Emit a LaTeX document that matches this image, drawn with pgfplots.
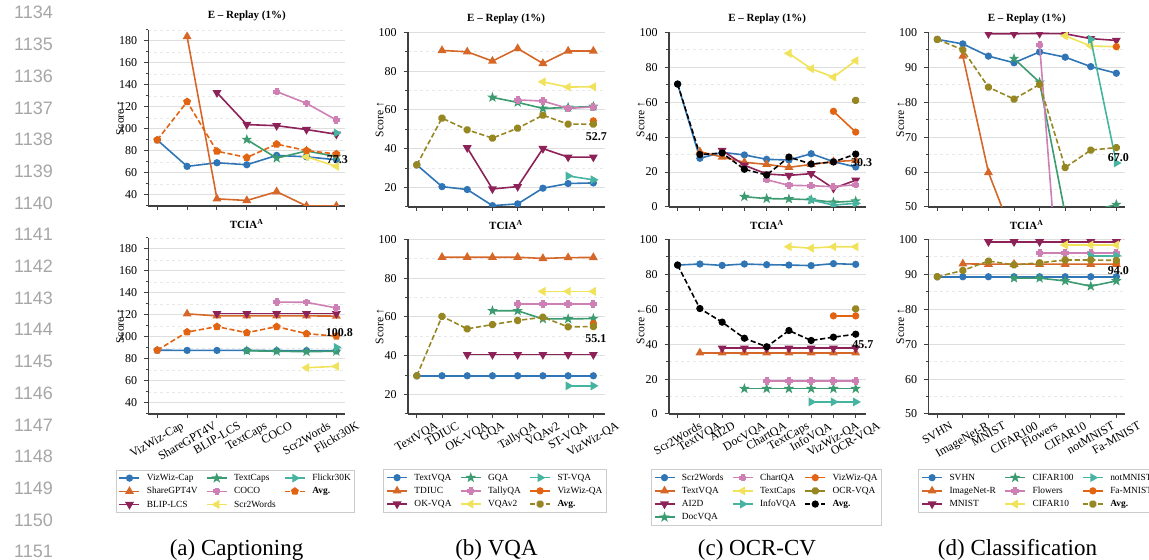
\documentclass[border=0pt]{standalone}
\usepackage{fontspec}
\setmainfont{Liberation Serif}
\newfontfamily\linefont{Liberation Sans}
\usepackage{graphicx}
\usepackage{pgfplots}
\pgfplotsset{compat=1.18}
\newcommand\rl[1]{\rotatebox{30}{#1}}

\definecolor{c1}{RGB}{48,118,182}
\definecolor{c2}{RGB}{213,104,40}
\definecolor{c3}{RGB}{140,34,88}
\definecolor{c4}{RGB}{60,155,112}
\definecolor{c5}{RGB}{206,128,180}
\definecolor{c6}{RGB}{240,226,90}
\definecolor{c7}{RGB}{70,180,160}
\definecolor{c8}{RGB}{226,100,18}
\definecolor{c9}{RGB}{150,135,35}

\pgfdeclareplotmark{fstar}{%
 \pgfpathmoveto{\pgfpointpolar{90}{1.25*\pgfplotmarksize}}%
 \pgfpathlineto{\pgfpointpolar{126}{0.5*\pgfplotmarksize}}%
 \pgfpathlineto{\pgfpointpolar{162}{1.25*\pgfplotmarksize}}%
 \pgfpathlineto{\pgfpointpolar{198}{0.5*\pgfplotmarksize}}%
 \pgfpathlineto{\pgfpointpolar{234}{1.25*\pgfplotmarksize}}%
 \pgfpathlineto{\pgfpointpolar{270}{0.5*\pgfplotmarksize}}%
 \pgfpathlineto{\pgfpointpolar{306}{1.25*\pgfplotmarksize}}%
 \pgfpathlineto{\pgfpointpolar{342}{0.5*\pgfplotmarksize}}%
 \pgfpathlineto{\pgfpointpolar{18}{1.25*\pgfplotmarksize}}%
 \pgfpathlineto{\pgfpointpolar{54}{0.5*\pgfplotmarksize}}%
 \pgfpathclose\pgfusepathqfillstroke}
\pgfdeclareplotmark{fplus}{%
 \pgfpathmoveto{\pgfpoint{0.4*\pgfplotmarksize}{1*\pgfplotmarksize}}%
 \pgfpathlineto{\pgfpoint{-0.4*\pgfplotmarksize}{1*\pgfplotmarksize}}%
 \pgfpathlineto{\pgfpoint{-0.4*\pgfplotmarksize}{0.4*\pgfplotmarksize}}%
 \pgfpathlineto{\pgfpoint{-1*\pgfplotmarksize}{0.4*\pgfplotmarksize}}%
 \pgfpathlineto{\pgfpoint{-1*\pgfplotmarksize}{-0.4*\pgfplotmarksize}}%
 \pgfpathlineto{\pgfpoint{-0.4*\pgfplotmarksize}{-0.4*\pgfplotmarksize}}%
 \pgfpathlineto{\pgfpoint{-0.4*\pgfplotmarksize}{-1*\pgfplotmarksize}}%
 \pgfpathlineto{\pgfpoint{0.4*\pgfplotmarksize}{-1*\pgfplotmarksize}}%
 \pgfpathlineto{\pgfpoint{0.4*\pgfplotmarksize}{-0.4*\pgfplotmarksize}}%
 \pgfpathlineto{\pgfpoint{1*\pgfplotmarksize}{-0.4*\pgfplotmarksize}}%
 \pgfpathlineto{\pgfpoint{1*\pgfplotmarksize}{0.4*\pgfplotmarksize}}%
 \pgfpathlineto{\pgfpoint{0.4*\pgfplotmarksize}{0.4*\pgfplotmarksize}}%
 \pgfpathclose\pgfusepathqfillstroke}
\pgfdeclareplotmark{foct}{%
 \pgfpathmoveto{\pgfpointpolar{22.5}{1.05*\pgfplotmarksize}}%
 \pgfpathlineto{\pgfpointpolar{67.5}{1.05*\pgfplotmarksize}}%
 \pgfpathlineto{\pgfpointpolar{112.5}{1.05*\pgfplotmarksize}}%
 \pgfpathlineto{\pgfpointpolar{157.5}{1.05*\pgfplotmarksize}}%
 \pgfpathlineto{\pgfpointpolar{202.5}{1.05*\pgfplotmarksize}}%
 \pgfpathlineto{\pgfpointpolar{247.5}{1.05*\pgfplotmarksize}}%
 \pgfpathlineto{\pgfpointpolar{292.5}{1.05*\pgfplotmarksize}}%
 \pgfpathlineto{\pgfpointpolar{337.5}{1.05*\pgfplotmarksize}}%
 \pgfpathclose\pgfusepathqfillstroke}

\pgfplotsset{
 s1/.style={color=c1, mark=*, mark size=1.4pt, line width=0.8pt},
 s2/.style={color=c2, mark=triangle*, mark size=1.8pt, line width=0.8pt},
 s3/.style={color=c3, mark=triangle*, mark size=1.8pt, mark options={rotate=180}, line width=0.8pt},
 s4/.style={color=c4, mark=fstar, mark size=1.25pt, line width=0.8pt},
 s5/.style={color=c5, mark=fplus, mark size=1.45pt, line width=0.8pt},
 s6/.style={color=c6, mark=triangle*, mark size=1.8pt, mark options={rotate=90}, line width=0.8pt},
 s7/.style={color=c7, mark=triangle*, mark size=1.8pt, mark options={rotate=-90}, line width=0.8pt},
 s8/.style={color=c8, mark=*, mark size=1.4pt, line width=0.8pt},
 s9/.style={color=c9, mark=foct, mark size=1.4pt, line width=0.8pt},
 avgA/.style={color=c8, mark=pentagon*, mark size=1.6pt, line width=0.8pt, dash pattern=on 2.6pt off 1.3pt, mark options={solid}},
 avgB/.style={color=c9, mark=foct, mark size=1.4pt, line width=0.8pt, dash pattern=on 2.6pt off 1.3pt, mark options={solid}},
 avgC/.style={color=black, mark=*, mark size=1.4pt, line width=0.8pt, dash pattern=on 2.6pt off 1.3pt, mark options={solid}},
 base/.style={
  width=98.5pt, height=87.3pt, scale only axis, anchor=south west,
  axis x line*=bottom, axis y line*=left,
  axis line style={-, draw=black!75, line width=0.8pt},
  tick align=outside, major tick length=2pt, minor tick length=1.2pt,
  tick style={draw=black!75, line width=0.5pt},
  ymajorgrids, yminorgrids,
  major grid style={draw=black!13, line width=0.5pt, solid},
  minor grid style={draw=black!9, line width=0.4pt, dash pattern=on 1.5pt off 1.5pt},
  ticklabel style={font=\fontsize{6}{7}\selectfont},
  /pgf/number format/assume math mode=true,
  ylabel={Score ↑},
  every axis y label/.style={at={(axis description cs:-0.142,0.5)}, rotate=90, anchor=center, font=\fontsize{5.8}{6.5}\selectfont},
  every axis title/.style={at={(axis description cs:0.5,1)}, anchor=center, yshift=7pt, font=\bfseries\fontsize{5.5}{6.5}\selectfont},
  clip mode=individual, clip marker paths=true,
 },
 toprow/.style={base, xticklabels={,,,,,,,,,,}, title={E – Replay (1\%)}},
 botrow/.style={base, title={TCIA\textsuperscript{A}},
  xticklabel style={anchor=north, inner sep=1pt, yshift=-0.5pt},
  legend columns=3, legend cell align=left,
  legend image code/.code={\draw[mark repeat=2,mark phase=2] plot coordinates {(0pt,0pt)(5pt,0pt)(10pt,0pt)};},
  legend style={anchor=north west, draw=black!20, line width=0.4pt, fill=white,
   inner sep=1.3pt, font=\fontsize{4.7}{5.4}\selectfont,
   column sep=2.7pt, row sep=1.1pt,
   /tikz/every even column/.append style={column sep=3.6pt},
   nodes={inner sep=0.6pt, text height=3.4pt, text depth=0.9pt}},
 },
}

\begin{document}
\begin{tikzpicture}
\path[use as bounding box] (0,0) rectangle (574.5pt,280pt);
\clip (0,0) rectangle (574.5pt,280pt);

\foreach \i in {0,...,17} {
 \pgfmathtruncatemacro\n{1134+\i}
 \node[anchor=base east, font=\linefont\fontsize{9}{10}\selectfont, text=black!35, inner sep=0pt] at (26.65pt, {270.5pt-\i*15.85pt}) {\n};
}
\node[anchor=base, font=\fontsize{11.5}{13}\selectfont, inner sep=0pt] at (118.25pt,2pt) {(a) Captioning};
\node[anchor=base, font=\fontsize{11.5}{13}\selectfont, inner sep=0pt] at (248.25pt,2pt) {(b) VQA};
\node[anchor=base, font=\fontsize{11.5}{13}\selectfont, inner sep=0pt] at (378.5pt,2pt) {(c) OCR-CV};
\node[anchor=base, font=\fontsize{11.5}{13}\selectfont, inner sep=0pt] at (508.75pt,2pt) {(d) Classification};

% ---------------- (a) top
\begin{axis}[toprow, at={(74.15pt,177pt)}, height=88pt, xmin=-0.3, xmax=6.3, ymin=30, ymax=190,
 ytick={40,60,...,180}, minor ytick={30,50,...,190}, xtick={0,...,6}]
\addplot[s1] coordinates {(0,90)(1,66)(2,69.3)(3,67.5)(4,76)(5,74.7)(6,72)};
\addplot[s2] coordinates {(1,184)(2,36.5)(3,35)(4,43)(5,30)(6,30)};
\addplot[s3] coordinates {(2,133)(3,104)(4,103)(5,99.5)(6,95.2)};
\addplot[s4] coordinates {(3,90.4)(4,73.5)(5,80)(6,75)};
\addplot[s5] coordinates {(4,134)(5,123.3)(6,108.2)};
\addplot[s6] coordinates {(5,74.7)(6,66)};
\addplot[s7] coordinates {(6,96.4)};
\addplot[avgA] coordinates {(0,90)(1,124.8)(2,79.8)(3,74.1)(4,86.2)(5,80.4)(6,77.3)};
\node[font=\bfseries\fontsize{6}{7}\selectfont, xshift=0.5pt, yshift=-3pt] at (axis cs:6,77.3) {77.3};
\end{axis}

% ---------------- (a) bottom
\begin{axis}[botrow, at={(74.15pt,73pt)}, height=88pt, xmin=-0.3, xmax=6.3, ymin=30, ymax=190,
 ytick={40,60,...,180}, minor ytick={30,50,...,190}, xtick={0,...,6},
 xticklabels={\rl{VizWiz-Cap},\rl{ShareGPT4V},\rl{BLIP-LCS},\rl{TextCaps},\rl{COCO},\rl{Scr2Words},\rl{Flickr30K}},
 legend style={at={(axis description cs:-0.1655,-0.316)}}]
\addplot[s1, forget plot] coordinates {(0,88)(1,87.8)(2,87.8)(3,87.8)(4,87.6)(5,87.6)(6,87.4)};
\addplot[s2, forget plot] coordinates {(1,121)(2,119.2)(3,119.2)(4,119.2)(5,119.2)(6,119)};
\addplot[s3, forget plot] coordinates {(2,121.2)(3,121.2)(4,121.2)(5,121.2)(6,121.2)};
\addplot[s4, forget plot] coordinates {(3,87.5)(4,87)(5,86.7)(6,87)};
\addplot[s5, forget plot] coordinates {(4,131.8)(5,131.5)(6,126.4)};
\addplot[s6, forget plot] coordinates {(5,72.1)(6,73.3)};
\addplot[s7, forget plot] coordinates {(6,90.6)};
\addplot[avgA, forget plot] coordinates {(0,88)(1,104.5)(2,109.4)(3,103.9)(4,109.4)(5,103)(6,100.8)};
\node[font=\bfseries\fontsize{6}{7}\selectfont, xshift=1.5pt, yshift=1.8pt] at (axis cs:6,100.8) {100.8};
\addlegendimage{s1}\addlegendentry{VizWiz-Cap}
\addlegendimage{s4}\addlegendentry{TextCaps}
\addlegendimage{s7}\addlegendentry{Flickr30K}
\addlegendimage{s2}\addlegendentry{ShareGPT4V}
\addlegendimage{s5}\addlegendentry{COCO}
\addlegendimage{avgA}\addlegendentry{\textbf{Avg.}}
\addlegendimage{s3}\addlegendentry{BLIP-LCS}
\addlegendimage{s6}\addlegendentry{Scr2Words}
\end{axis}

% ---------------- (b) top
\begin{axis}[toprow, at={(203.85pt,176.5pt)}, xmin=-0.36, xmax=7.45, ymin=10, ymax=100,
 ytick={20,40,...,100}, minor ytick={10,30,...,90}, xtick={0,...,7}]
\addplot[s1] coordinates {(0,31.7)(1,20.5)(2,19)(3,10.7)(4,11.6)(5,19.7)(6,22.1)(7,22.4)};
\addplot[s2] coordinates {(1,90.7)(2,90)(3,85.2)(4,91.7)(5,84)(6,90.4)(7,90.4)};
\addplot[s3] coordinates {(2,40.5)(3,19.3)(4,20.5)(5,40.1)(6,35.7)(7,35.7)};
\addplot[s4] coordinates {(3,66.5)(4,63.9)(5,60.8)(6,61.3)(7,61.8)};
\addplot[s5] coordinates {(4,65.2)(5,64.6)(6,60.8)(7,61.6)};
\addplot[s6] coordinates {(5,74.5)(6,71.8)(7,72)};
\addplot[s7] coordinates {(6,26)(7,24)};
\addplot[s8] coordinates {(7,54.4)};
\addplot[avgB] coordinates {(0,31.7)(1,55.8)(2,49.8)(3,45.5)(4,50.6)(5,57.3)(6,52.7)(7,52.7)};
\node[font=\bfseries\fontsize{6}{7}\selectfont, xshift=1.5pt, yshift=-6pt] at (axis cs:7,52.7) {52.7};
\end{axis}

% ---------------- (b) bottom
\begin{axis}[botrow, at={(203.85pt,73pt)}, xmin=-0.36, xmax=7.45, ymin=10, ymax=100,
 ytick={20,40,...,100}, minor ytick={10,30,...,90}, xtick={0,...,7},
 xticklabels={\rl{TextVQA},\rl{TDIUC},\rl{OK-VQA},\rl{GQA},\rl{TallyQA},\rl{VQAv2},\rl{ST-VQA},\rl{VizWiz-QA}},
 legend style={at={(axis description cs:-0.124,-0.316)}}]
\addplot[s1, forget plot] coordinates {(0,29.7)(1,29.7)(2,29.7)(3,29.7)(4,29.7)(5,29.7)(6,29.7)(7,29.7)};
\addplot[s2, forget plot] coordinates {(1,90.8)(2,90.8)(3,90.8)(4,90.8)(5,90.2)(6,90.6)(7,90.7)};
\addplot[s3, forget plot] coordinates {(2,40.6)(3,40.6)(4,40.6)(5,40.6)(6,40.6)(7,40.6)};
\addplot[s4, forget plot] coordinates {(3,63.2)(4,63.2)(5,59)(6,59)(7,59.2)};
\addplot[s5, forget plot] coordinates {(4,66.7)(5,66.7)(6,66.7)(7,66.7)};
\addplot[s6, forget plot] coordinates {(5,73.2)(6,73.2)(7,73.2)};
\addplot[s7, forget plot] coordinates {(6,24.5)(7,24.5)};
\addplot[s8, forget plot] coordinates {(7,56.6)};
\addplot[avgB, forget plot] coordinates {(0,29.7)(1,60.3)(2,53.9)(3,56.1)(4,58.2)(5,59.9)(6,54.9)(7,55.1)};
\node[font=\bfseries\fontsize{6}{7}\selectfont, xshift=1.3pt, yshift=-6pt] at (axis cs:7,55.1) {55.1};
\addlegendimage{s1}\addlegendentry{TextVQA}
\addlegendimage{s4}\addlegendentry{GQA}
\addlegendimage{s7}\addlegendentry{ST-VQA}
\addlegendimage{s2}\addlegendentry{TDIUC}
\addlegendimage{s5}\addlegendentry{TallyQA}
\addlegendimage{s8}\addlegendentry{VizWiz-QA}
\addlegendimage{s3}\addlegendentry{OK-VQA}
\addlegendimage{s6}\addlegendentry{VQAv2}
\addlegendimage{avgB}\addlegendentry{\textbf{Avg.}}
\end{axis}

% ---------------- (c) top
\begin{axis}[toprow, at={(334.35pt,176.5pt)}, xmin=-0.4, xmax=8.45, ymin=0, ymax=100,
 ytick={0,20,...,100}, minor ytick={10,30,...,90}, xtick={0,...,8}]
\addplot[s1] coordinates {(0,70.4)(1,27.9)(2,31.3)(3,29.8)(4,27.3)(5,26.9)(6,30.5)(7,26)(8,22.9)};
\addplot[s2] coordinates {(1,31.7)(2,28.6)(3,25.6)(4,24.4)(5,22.7)(6,24.4)(7,26)(8,26.7)};
\addplot[s3] coordinates {(2,32.4)(3,23.9)(4,18.9)(5,18.1)(6,19.1)(7,10.7)(8,15.3)};
\addplot[s4] coordinates {(3,5.9)(4,4.8)(5,4.6)(6,4.2)(7,2.7)(8,3.4)};
\addplot[s5] coordinates {(4,15.6)(5,12.4)(6,12.2)(7,11.6)(8,12.8)};
\addplot[s6] coordinates {(5,88)(6,79.2)(7,74.4)(8,83.8)};
\addplot[s7] coordinates {(6,4)(7,1.1)(8,2.1)};
\addplot[s8] coordinates {(7,54.8)(8,42.9)};
\addplot[s9] coordinates {(8,61.1)};
\addplot[avgC] coordinates {(0,70.4)(1,30)(2,30.9)(3,21.6)(4,18.3)(5,28.6)(6,24.6)(7,25.8)(8,30.3)};
\node[font=\bfseries\fontsize{6}{7}\selectfont, xshift=3pt, yshift=-4.5pt] at (axis cs:8,30.3) {30.3};
\end{axis}

% ---------------- (c) bottom
\begin{axis}[botrow, at={(334.35pt,73pt)}, xmin=-0.4, xmax=8.45, ymin=0, ymax=100,
 ytick={0,20,...,100}, minor ytick={10,30,...,90}, xtick={0,...,8},
 xticklabels={\rl{Scr2Words},\rl{TextVQA},\rl{AI2D},\rl{DocVQA},\rl{ChartQA},\rl{TextCaps},\rl{InfoVQA},\rl{VizWiz-QA},\rl{OCR-VQA}},
 legend style={at={(axis description cs:-0.0914,-0.316)}}]
\addplot[s1, forget plot] coordinates {(0,85.3)(1,85.9)(2,85.1)(3,85.9)(4,85.5)(5,85.3)(6,85)(7,86.1)(8,85.7)};
\addplot[s2, forget plot] coordinates {(1,35)(2,35)(3,35)(4,35)(5,35)(6,35)(7,35)(8,35)};
\addplot[s3, forget plot] coordinates {(2,37.7)(3,37.7)(4,37.7)(5,37.7)(6,37.7)(7,37.7)(8,37.7)};
\addplot[s4, forget plot] coordinates {(3,14.5)(4,14.5)(5,14.5)(6,14.5)(7,14.5)(8,14.5)};
\addplot[s5, forget plot] coordinates {(4,19)(5,19)(6,19)(7,19)(8,19)};
\addplot[s6, forget plot] coordinates {(5,95.8)(6,95)(7,95.8)(8,95.8)};
\addplot[s7, forget plot] coordinates {(6,6.9)(7,6.9)(8,6.9)};
\addplot[s8, forget plot] coordinates {(7,56.2)(8,56.2)};
\addplot[s9, forget plot] coordinates {(8,60.2)};
\addplot[avgC, forget plot] coordinates {(0,85.3)(1,60.4)(2,52.6)(3,43.4)(4,38.5)(5,47.8)(6,42.1)(7,44)(8,45.7)};
\node[font=\bfseries\fontsize{6}{7}\selectfont, xshift=3.6pt, yshift=-5.2pt] at (axis cs:8,45.7) {45.7};
\addlegendimage{s1}\addlegendentry{Scr2Words}
\addlegendimage{s5}\addlegendentry{ChartQA}
\addlegendimage{s8}\addlegendentry{VizWiz-QA}
\addlegendimage{s2}\addlegendentry{TextVQA}
\addlegendimage{s6}\addlegendentry{TextCaps}
\addlegendimage{s9}\addlegendentry{OCR-VQA}
\addlegendimage{s3}\addlegendentry{AI2D}
\addlegendimage{s7}\addlegendentry{InfoVQA}
\addlegendimage{avgC}\addlegendentry{\textbf{Avg.}}
\addlegendimage{s4}\addlegendentry{DocVQA}
\end{axis}

% ---------------- (d) top
\begin{axis}[toprow, at={(464.15pt,176.5pt)}, xmin=-0.35, xmax=7.35, ymin=50, ymax=100,
 ytick={50,60,...,100}, minor ytick={55,65,...,95}, xtick={0,...,7}]
\addplot[s1] coordinates {(0,98)(1,96.7)(2,93.2)(3,91.3)(4,94.4)(5,92.9)(6,90.2)(7,88.3)};
\addplot[s2] coordinates {(1,93.2)(2,59.9)(3,41)};
\addplot[s3] coordinates {(2,99.6)(3,99.6)(4,99.7)(5,99.6)(6,98.2)(7,97.7)};
\addplot[s4] coordinates {(3,92.5)(4,85.7)(5,48)(6,48.8)(7,50.7)};
\addplot[s5] coordinates {(4,96.5)(5,2)};
\addplot[s6] coordinates {(5,99)(6,96.1)(7,95.9)};
\addplot[s7] coordinates {(6,98)(7,62.6)};
\addplot[s8] coordinates {(7,95.9)};
\addplot[avgB] coordinates {(0,98)(1,95)(2,84.3)(3,80.9)(4,85.1)(5,61.3)(6,66.3)(7,67)};
\node[font=\bfseries\fontsize{6}{7}\selectfont, xshift=1pt, yshift=-5pt] at (axis cs:7,67) {67.0};
\end{axis}

% ---------------- (d) bottom
\begin{axis}[botrow, at={(464.15pt,73pt)}, xmin=-0.35, xmax=7.35, ymin=50, ymax=100,
 ytick={50,60,...,100}, minor ytick={55,65,...,95}, xtick={0,...,7},
 xticklabels={\rl{SVHN},\rl{ImageNet-R},\rl{MNIST},\rl{CIFAR100},\rl{Flowers},\rl{CIFAR10},\rl{notMNIST},\rl{Fa-MNIST}},
 legend style={at={(axis description cs:-0.0508,-0.316)}}]
\addplot[s1, forget plot] coordinates {(0,89.3)(1,89.3)(2,89.3)(3,89.3)(4,89.3)(5,89.3)(6,89.3)(7,89.3)};
\addplot[s2, forget plot] coordinates {(1,93)(2,92.9)(3,92.9)(4,92.9)(5,92.9)(6,92.9)(7,92.9)};
\addplot[s3, forget plot] coordinates {(2,99.3)(3,99.3)(4,99.3)(5,99.3)(6,99.3)(7,99.3)};
\addplot[s4, forget plot] coordinates {(3,88.9)(4,88.9)(5,88.1)(6,86.6)(7,88.1)};
\addplot[s5, forget plot] coordinates {(4,96.1)(5,96.1)(6,96.1)(7,96.1)};
\addplot[s6, forget plot] coordinates {(5,98.4)(6,98.4)(7,98.4)};
\addplot[s7, forget plot] coordinates {(6,95.3)(7,95.3)};
\addplot[s8, forget plot] coordinates {(7,93.1)};
\addplot[avgB, forget plot] coordinates {(0,89.3)(1,91.1)(2,93.8)(3,92.7)(4,93.3)(5,94.1)(6,94.1)(7,94)};
\node[font=\bfseries\fontsize{6}{7}\selectfont, xshift=1pt, yshift=-5pt] at (axis cs:7,94) {94.0};
\addlegendimage{s1}\addlegendentry{SVHN}
\addlegendimage{s4}\addlegendentry{CIFAR100}
\addlegendimage{s7}\addlegendentry{notMNIST}
\addlegendimage{s2}\addlegendentry{ImageNet-R}
\addlegendimage{s5}\addlegendentry{Flowers}
\addlegendimage{s8}\addlegendentry{Fa-MNIST}
\addlegendimage{s3}\addlegendentry{MNIST}
\addlegendimage{s6}\addlegendentry{CIFAR10}
\addlegendimage{avgB}\addlegendentry{\textbf{Avg.}}
\end{axis}
\end{tikzpicture}
\end{document}
